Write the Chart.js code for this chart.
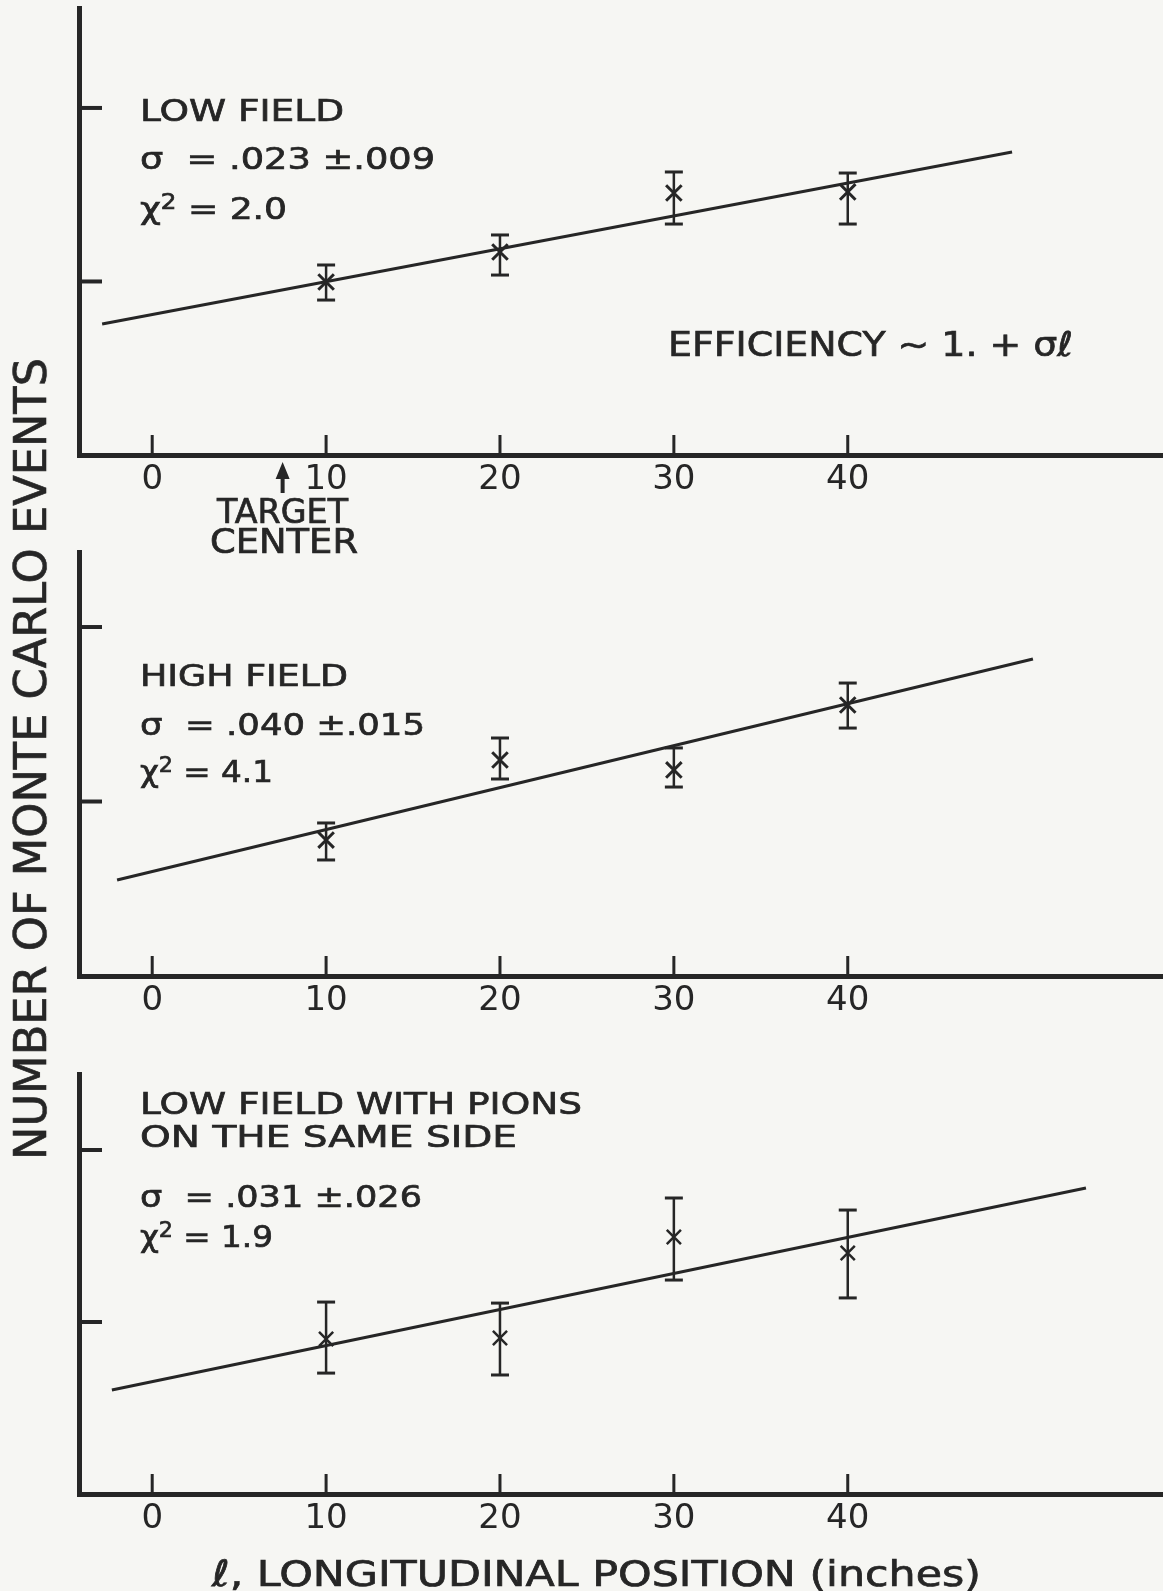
<!DOCTYPE html>
<html>
<head>
<meta charset="utf-8">
<script src="https://cdn.jsdelivr.net/npm/chart.js@4.4.0/dist/chart.umd.min.js"></script>
<style>
  html, body { margin: 0; padding: 0; background: #f6f6f3; }
  #page { position: relative; width: 1163px; height: 1591px; overflow: hidden; background: #f6f6f3; }
  .panel { position: absolute; left: 0; width: 1163px; }
  .panel canvas { display: block; }
  .t { position: absolute; font-family: "DejaVu Sans"; line-height: 1; white-space: pre; color: #262626;
       -webkit-text-stroke: 0.7px #262626; transform-origin: 0 50%; }
  .t sup { font-size: 0.68em; position: relative; top: -0.5em; vertical-align: baseline; line-height: 0; }
</style>
</head>
<body>
<div id="page">
  <div class="panel" style="top:0px;height:540px"><canvas id="c1" width="1163" height="540"></canvas></div>
  <div class="panel" style="top:540px;height:520px"><canvas id="c2" width="1163" height="520"></canvas></div>
  <div class="panel" style="top:1060px;height:531px"><canvas id="c3" width="1163" height="531"></canvas></div>
</div>
<script>
// ---------------- data ----------------
const positions = [10, 20, 30, 40];          // longitudinal position (inches)
const xTickValues = [0, 10, 20, 30, 40];
const yTickValues = [1, 2];                   // unlabelled y ticks
const targetCenter = 7.5;

const lowFieldValues   = [0.997, 1.170, 1.510, 1.516];
const lowFieldErrLow   = [0.893, 1.037, 1.331, 1.331];
const lowFieldErrHigh  = [1.095, 1.268, 1.631, 1.625];
const lowFieldFitX     = [-2.88, 49.45];
const lowFieldFitY     = [0.755, 1.746];

const highFieldValues  = [0.779, 1.238, 1.181, 1.553];
const highFieldErrLow  = [0.665, 1.129, 1.083, 1.421];
const highFieldErrHigh = [0.877, 1.364, 1.307, 1.679];
const highFieldFitX    = [-2.02, 50.65];
const highFieldFitY    = [0.550, 1.817];

const pionsValues      = [0.901, 0.907, 1.494, 1.401];
const pionsErrLow      = [0.703, 0.692, 1.244, 1.140];
const pionsErrHigh     = [1.116, 1.110, 1.721, 1.651];
const pionsFitX        = [-2.32, 53.7];
const pionsFitY        = [0.605, 1.779];

// ---------------- styling / layout ----------------
const INK = '#262626';
const FONT = 'DejaVu Sans';

const innerTicks = {
  id: 'innerTicks',
  afterDraw(chart, args, opts) {
    const { ctx, chartArea, scales: { x, y } } = chart;
    ctx.save();
    ctx.strokeStyle = INK;
    ctx.fillStyle = INK;
    ctx.lineWidth = 4;
    yTickValues.forEach(v => {
      const py = y.getPixelForValue(v);
      ctx.beginPath(); ctx.moveTo(chartArea.left, py); ctx.lineTo(chartArea.left + 23, py); ctx.stroke();
    });
    ctx.lineWidth = 3;
    xTickValues.forEach(v => {
      const px = x.getPixelForValue(v);
      ctx.beginPath(); ctx.moveTo(px, chartArea.bottom); ctx.lineTo(px, chartArea.bottom - 20); ctx.stroke();
    });
    if (opts && opts.arrow) {
      const px = x.getPixelForValue(targetCenter);
      const b = chartArea.bottom;
      ctx.beginPath();
      ctx.moveTo(px, b + 7); ctx.lineTo(px - 7, b + 24); ctx.lineTo(px + 7, b + 24); ctx.closePath(); ctx.fill();
      ctx.lineWidth = 4;
      ctx.beginPath(); ctx.moveTo(px, b + 18); ctx.lineTo(px, b + 38); ctx.stroke();
    }
    ctx.restore();
  }
};

function makePanel(canvasId, s, L) {
  const errData = [];
  positions.forEach((x, i) => {
    errData.push({ x: x, y: s.lo[i] }, { x: x, y: s.hi[i] }, { x: x, y: null });
  });
  return new Chart(document.getElementById(canvasId), {
    type: 'scatter',
    data: {
      datasets: [
        { type: 'line', data: s.fitX.map((x, i) => ({ x: x, y: s.fitY[i] })),
          borderColor: INK, borderWidth: 3, pointRadius: 0, tension: 0, fill: false },
        { type: 'line', data: errData, borderColor: INK, borderWidth: 2.5, spanGaps: false, fill: false,
          pointStyle: 'line', pointRadius: 9, pointBorderWidth: 3, pointBorderColor: INK, pointBackgroundColor: INK },
        { type: 'scatter', data: positions.map((x, i) => ({ x: x, y: s.val[i] })),
          pointStyle: 'crossRot', pointRadius: L.markR, pointBorderWidth: L.markW,
          pointBorderColor: INK, pointBackgroundColor: INK }
      ]
    },
    options: {
      responsive: false, animation: false, events: [],
      layout: { autoPadding: false, padding: { left: 79, top: L.padTop, right: 0, bottom: 0 } },
      plugins: { legend: { display: false }, tooltip: { enabled: false }, innerTicks: { arrow: !!L.arrow } },
      scales: {
        x: {
          type: 'linear', min: -4.21, max: 58.13,
          afterBuildTicks: sc => { sc.ticks = xTickValues.map(v => ({ value: v })); },
          afterFit: sc => { sc.height = L.below; },
          grid: { display: true, drawOnChartArea: false, drawTicks: false },
          border: { display: true, color: INK, width: 5 },
          ticks: { color: INK, font: { family: FONT, size: 34 }, padding: 5, maxRotation: 0, autoSkip: false }
        },
        y: {
          type: 'linear', min: 0, max: L.yMax,
          afterFit: sc => { sc.width = 0; },
          ticks: { display: false },
          grid: { display: true, drawOnChartArea: false, drawTicks: false },
          border: { display: true, color: INK, width: 5 }
        }
      }
    },
    plugins: [innerTicks]
  });
}

makePanel('c1', { val: lowFieldValues, lo: lowFieldErrLow, hi: lowFieldErrHigh, fitX: lowFieldFitX, fitY: lowFieldFitY },
  { padTop: 8, below: 85, yMax: 2.576, markR: 11, markW: 3, arrow: true });
makePanel('c2', { val: highFieldValues, lo: highFieldErrLow, hi: highFieldErrHigh, fitX: highFieldFitX, fitY: highFieldFitY },
  { padTop: 12, below: 84, yMax: 2.43, markR: 11, markW: 3 });
makePanel('c3', { val: pionsValues, lo: pionsErrLow, hi: pionsErrHigh, fitX: pionsFitX, fitY: pionsFitY },
  { padTop: 14, below: 97, yMax: 2.442, markR: 10, markW: 2.5 });

// ---------------- texts ----------------
const page = document.getElementById('page');
function addText(html, left, capTop, fs, width) {
  const el = document.createElement('div');
  el.className = 't';
  el.innerHTML = html;
  el.style.fontSize = fs + 'px';
  el.style.left = left + 'px';
  el.style.top = (capTop - 0.117 * fs) + 'px';
  page.appendChild(el);
  if (width) {
    const w = el.getBoundingClientRect().width;
    el.style.transform = 'scaleX(' + (width / w) + ')';
  }
  return el;
}
const S = '\u00a0';
addText('LOW FIELD', 140, 99, 31, 204);
addText('\u03c3' + S + S + '=' + S + '.023' + S + '\u00b1.009', 140, 147, 31, 295);
addText('\u03c7<sup>2</sup>' + S + '=' + S + '2.0', 140, 197, 31, 147);
addText('EFFICIENCY' + S + '~' + S + '1.' + S + '+' + S + '\u03c3\u2113', 668, 331, 34, 405);
addText('TARGET', 217, 499, 33, 131);
addText('CENTER', 210, 529, 33, 148);

addText('HIGH FIELD', 140, 664, 31, 208);
addText('\u03c3' + S + S + '=' + S + '.040' + S + '\u00b1.015', 140, 713, 31, 285);
addText('\u03c7<sup>2</sup>' + S + '=' + S + '4.1', 140, 760, 31, 133);

addText('LOW FIELD WITH PIONS', 140, 1092, 31, 442);
addText('ON THE SAME SIDE', 140, 1125, 31, 377);
addText('\u03c3' + S + S + '=' + S + '.031' + S + '\u00b1.026', 140, 1185, 31, 282);
addText('\u03c7<sup>2</sup>' + S + '=' + S + '1.9', 140, 1225, 31, 133);

addText('\u2113, LONGITUDINAL POSITION (inches)', 212, 1560, 36, 769);

// rotated y-axis title
const yt = document.createElement('div');
yt.className = 't';
yt.textContent = 'NUMBER OF MONTE CARLO EVENTS';
yt.style.fontSize = '44px';
page.appendChild(yt);
{
  const r = yt.getBoundingClientRect();
  const sx = 802 / r.width;
  yt.style.left = (31 - r.width / 2) + 'px';
  yt.style.top = (759 - r.height / 2) + 'px';
  yt.style.transformOrigin = '50% 50%';
  yt.style.transform = 'rotate(-90deg) scaleX(' + sx + ')';
}
</script>
</body>
</html>
